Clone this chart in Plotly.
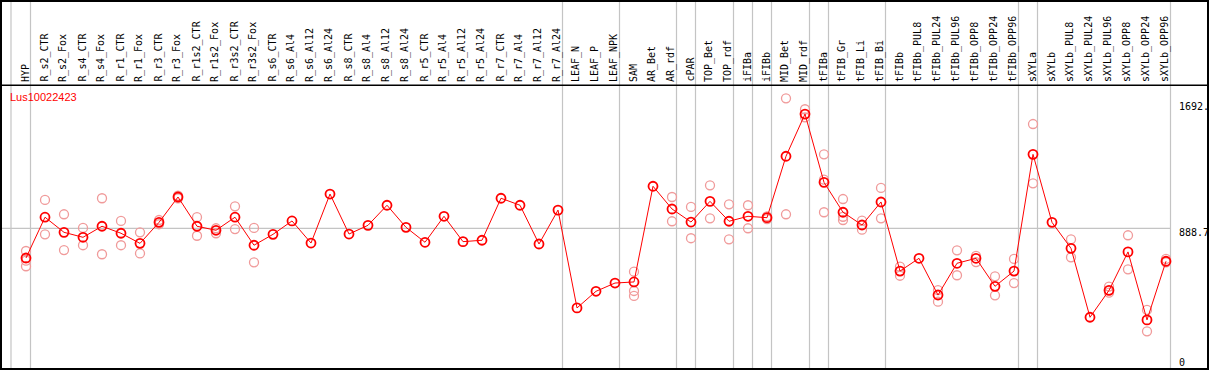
import plotly.graph_objects as go

categories = ["HYP", "R_s2_CTR", "R_s2_Fox", "R_s4_CTR", "R_s4_Fox", "R_r1_CTR", "R_r1_Fox",
              "R_r3_CTR", "R_r3_Fox", "R_r1s2_CTR", "R_r1s2_Fox", "R_r3s2_CTR", "R_r3s2_Fox",
              "R_s6_CTR", "R_s6_Al4", "R_s6_Al12", "R_s6_Al24", "R_s8_CTR", "R_s8_Al4",
              "R_s8_Al12", "R_s8_Al24", "R_r5_CTR", "R_r5_Al4", "R_r5_Al12", "R_r5_Al24",
              "R_r7_CTR", "R_r7_Al4", "R_r7_Al12", "R_r7_Al24", "LEAF_N", "LEAF_P", "LEAF_NPK",
              "SAM", "AR_Bet", "AR_rdf", "cPAR", "TOP_Bet", "TOP_rdf", "iFIBa", "iFIBb",
              "MID_Bet", "MID_rdf", "tFIBa", "tFIB_Gr", "tFIB_Li", "tFIB_Bi", "tFIBb",
              "tFIBb_PUL8", "tFIBb_PUL24", "tFIBb_PUL96", "tFIBb_OPP8", "tFIBb_OPP24",
              "tFIBb_OPP96", "sXYLa", "sXYLb", "sXYLb_PUL8", "sXYLb_PUL24", "sXYLb_PUL96",
              "sXYLb_OPP8", "sXYLb_OPP24", "sXYLb_OPP96"]

mean_values = [698, 960, 863, 831, 902, 857, 792, 927, 1090, 902, 876, 960, 780,
               850, 936, 794, 1109, 852, 908, 1037, 895, 799, 966, 803, 812,
               1082, 1037, 788, 1006, 377, 484, 537,
               544, 1159, 1013, 929, 1062, 934, 966, 957,
               1352, 1623, 1184, 992, 910, 1058, 614,
               696, 460, 664, 696, 516, 614,
               1364, 927, 760, 317, 490, 737, 300, 677]

replicates = [[743, 681, 645], [1071, 850], [979, 749], [891, 780], [1082, 722], [936, 780], [863, 728],
              [942, 915], [1098, 1082], [960, 841], [889, 857], [1030, 884], [891, 670],
              [], [], [], [], [], [], [], [], [], [], [], [],
              [], [], [], [], [], [], [],
              [610, 486, 454], [], [1090, 934], [1026, 825], [1165, 953], [1043, 818], [1037, 889], [966, 948],
              [1724, 979], [1654, 1602], [1364, 1201, 992], [1077, 963, 942], [938, 880], [1148, 953], [642, 584],
              [], [492, 417], [747, 587], [711, 672], [580, 458], [692, 537],
              [1559, 1178], [], [818, 702], [], [514, 475], [844, 625], [364, 227], [692, 670]]

# group boundaries: the gridline follows these categories
group_ends = ["HYP", "R_r7_Al24", "LEAF_NPK", "AR_rdf", "cPAR", "TOP_rdf", "iFIBa", "iFIBb",
              "MID_rdf", "tFIBa", "tFIB_Bi", "tFIBb_OPP96", "sXYLa", "sXYLb_OPP96"]

gene_id = "Lus10022423"
axis_labels = ["1692.", "888.7", "0"]
grid_value = 888.7

W, H = 1209, 370
X0, DX = 26.0, 19.0          # pixel of first category, spacing
Y0PIX, PXPERUNIT = 366.6, 0.1556

xs = list(range(len(categories)))
rx, ry = [], []
for i, reps in enumerate(replicates):
    for v in reps:
        rx.append(i)
        ry.append(v)

fig = go.Figure()
fig.add_trace(go.Scatter(x=rx, y=ry, mode="markers",
                         marker=dict(symbol="circle-open", size=9, color="#f09a9a",
                                     line=dict(width=1.3, color="#f09a9a")),
                         hoverinfo="skip", showlegend=False))
fig.add_trace(go.Scatter(x=xs, y=mean_values, mode="lines+markers",
                         line=dict(color="#ff0000", width=1),
                         marker=dict(symbol="circle-open", size=9, color="#ff0000",
                                     line=dict(width=1.8, color="#ff0000")),
                         showlegend=False))

def px(p):
    return p / W

def py(p):
    return 1 - p / H

shapes = []
grid_col = "#c4c4c4"
shapes.append(dict(type="line", xref="x", yref="paper", x0=-15 / DX, x1=-15 / DX,
                   y0=py(368), y1=py(0), line=dict(color=grid_col, width=1.2), layer="below"))
for name in group_ends:
    i = categories.index(name)
    xv = i + 4.5 / DX
    shapes.append(dict(type="line", xref="x", yref="paper", x0=xv, x1=xv,
                       y0=py(368), y1=py(0), line=dict(color=grid_col, width=1.2), layer="below"))
shapes.append(dict(type="line", xref="paper", yref="y", x0=px(1), x1=px(1170),
                   y0=grid_value, y1=grid_value, line=dict(color=grid_col, width=1.2), layer="below"))
shapes.append(dict(type="line", xref="paper", yref="paper", x0=px(1), x1=px(1208),
                   y0=py(85.3), y1=py(85.3), line=dict(color="black", width=1.5)))
shapes.append(dict(type="rect", xref="paper", yref="paper", x0=px(1), x1=px(1208),
                   y0=py(369), y1=py(1), line=dict(color="black", width=2)))

annotations = []
for i, name in enumerate(categories):
    annotations.append(dict(x=i - 0.05, y=py(83), xref="x", yref="paper", text=name,
                            showarrow=False, textangle=-90, xanchor="center", yanchor="bottom",
                            font=dict(family="DejaVu Sans Mono", size=10, color="black"),
                            borderpad=0))
annotations.append(dict(x=px(9), y=py(97.5), xref="paper", yref="paper", text=gene_id,
                        showarrow=False, xanchor="left", yanchor="middle",
                        font=dict(family="Liberation Sans", size=11, color="#ff0000"), borderpad=0))
for lab, ypix in zip(axis_labels, [107, 232, 362]):
    annotations.append(dict(x=px(1178), y=py(ypix), xref="paper", yref="paper", text=lab,
                            showarrow=False, xanchor="left", yanchor="middle",
                            font=dict(family="DejaVu Sans Mono", size=10, color="black"),
                            borderpad=0))

ymin = -(H - Y0PIX) / PXPERUNIT
ymax = Y0PIX / PXPERUNIT
fig.update_layout(
    width=W, height=H, margin=dict(l=0, r=0, t=0, b=0),
    paper_bgcolor="white", plot_bgcolor="white",
    xaxis=dict(range=[-X0 / DX, (W - X0) / DX], visible=False, fixedrange=True),
    yaxis=dict(range=[ymin, ymax], visible=False, fixedrange=True),
    shapes=shapes, annotations=annotations,
)
fig.write_html("out.html", config={"displayModeBar": False},
               post_script="document.body.style.margin='0';document.body.style.overflow='hidden';")
